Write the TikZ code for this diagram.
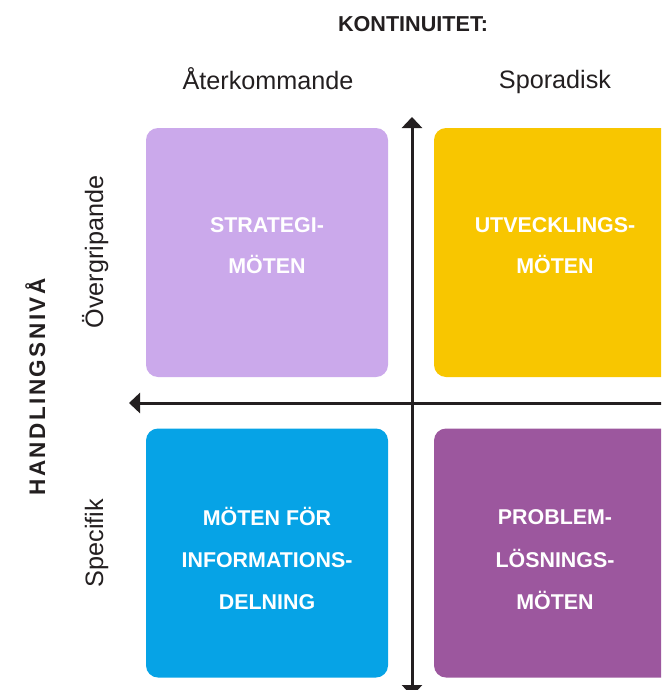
\documentclass[tikz,border=0pt]{standalone}
\usepackage{fontspec}
\setmainfont{Liberation Sans}
\newfontfamily\spacedbold[LetterSpace=11]{Liberation Sans Bold}
\usetikzlibrary{arrows.meta}
\definecolor{lav}{HTML}{CBA9EB}
\definecolor{yel}{HTML}{F8C600}
\definecolor{blu}{HTML}{06A3E6}
\definecolor{pur}{HTML}{9C579E}
\definecolor{ink}{HTML}{231F20}
\tikzset{
  box/.style={draw=none, rounded corners=12pt, minimum width=242pt, minimum height=249pt, inner sep=0pt},
  boxtxt/.style={anchor=base, inner sep=0pt, text=white, font=\fontsize{21.4}{24}\selectfont\bfseries},
  lbl/.style={anchor=base, inner sep=0pt, text=ink, font=\fontsize{25.2}{28}\selectfont},
  head/.style={anchor=base, inner sep=0pt, text=ink, font=\fontsize{21.6}{24}\selectfont\bfseries},
  axis/.style={draw=ink, line width=3pt, {Triangle[width=20pt,length=11pt]}-{Triangle[width=20pt,length=11pt]}},
}
\begin{document}
\begin{tikzpicture}[x=1pt,y=-1pt]
\useasboundingbox (0,0) rectangle (661,690);
\clip (0,0) rectangle (661,690);
% boxes
\node[box, fill=lav] (tl) at (267,252.5) {};
\node[box, fill=yel] (tr) at (555,252.5) {};
\node[box, fill=blu] (bl) at (267,553) {};
\node[box, fill=pur] (br) at (555,553) {};
% axes
\coordinate (vtop) at (412,117);
\coordinate (vbot) at (412,696);
\coordinate (hleft) at (129,403);
\coordinate (hright) at (700,403);
\draw[axis] (vbot) -- (vtop);
\draw[axis] (hright) -- (hleft);
% headings
\node[head] (kont) at (413,32) {KONTINUITET:};
\node[lbl] (ater) at (268,90) {Återkommande};
\node[lbl] (spor) at (555,89) {Sporadisk};
\node[anchor=base, inner sep=0pt, text=ink, font=\fontsize{22.5}{24}\selectfont\spacedbold, rotate=90] (hand) at (45,387) {HANDLINGSNIVÅ};
\node[lbl, rotate=90] (over) at (103,252) {Övergripande};
\node[lbl, rotate=90] (spec) at (103,543) {Specifik};
% box texts
\node[boxtxt] (tl1) at (267,232) {STRATEGI-};
\node[boxtxt] (tl2) at (267,273) {MÖTEN};
\node[boxtxt] (tr1) at (555,232) {UTVECKLINGS-};
\node[boxtxt] (tr2) at (555,273) {MÖTEN};
\node[boxtxt] (bl1) at (267,525) {MÖTEN FÖR};
\node[boxtxt] (bl2) at (267,567) {INFORMATIONS-};
\node[boxtxt] (bl3) at (267,609) {DELNING};
\node[boxtxt] (br1) at (555,524) {PROBLEM-};
\node[boxtxt] (br2) at (555,567) {LÖSNINGS-};
\node[boxtxt] (br3) at (555,609) {MÖTEN};
\end{tikzpicture}
\end{document}
